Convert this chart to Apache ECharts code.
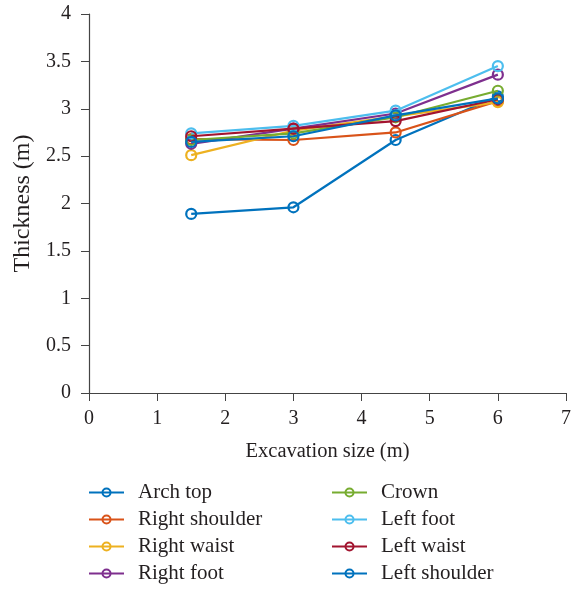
<!DOCTYPE html>
<html>
<head>
<meta charset="utf-8">
<script src="https://cdn.jsdelivr.net/npm/echarts@6/dist/echarts.min.js"></script>
<style>html,body{margin:0;padding:0;background:#fff}#c{width:574px;height:590px}</style>
</head>
<body>
<div id="c"></div>
<script>
const xValues = [1.5, 3, 4.5, 6];
const seriesNames = ['Arch top', 'Right shoulder', 'Right waist', 'Right foot', 'Crown', 'Left foot', 'Left waist', 'Left shoulder'];
const archTop = [1.89, 1.96, 2.67, 3.13];
const rightShoulder = [2.68, 2.67, 2.75, 3.08];
const rightWaist = [2.51, 2.77, 2.92, 3.07];
const rightFoot = [2.63, 2.79, 2.95, 3.36];
const crown = [2.67, 2.74, 2.91, 3.19];
const leftFoot = [2.74, 2.82, 2.98, 3.45];
const leftWaist = [2.71, 2.79, 2.87, 3.10];
const leftShoulder = [2.65, 2.71, 2.93, 3.11];
const xTicks = [0, 1, 2, 3, 4, 5, 6, 7];
const yTicks = [0, 0.5, 1, 1.5, 2, 2.5, 3, 3.5, 4];
const colors = ['#0072BD', '#D95319', '#EDB120', '#7E2F8E', '#77AC30', '#4DBEEE', '#A2142F', '#0072BD'];
const allData = [archTop, rightShoulder, rightWaist, rightFoot, crown, leftFoot, leftWaist, leftShoulder];

const font = 'Liberation Serif';
const txt = '#231F20';
const chart = echarts.init(document.getElementById('c'));
const series = seriesNames.map((n, i) => ({
  name: n,
  type: 'line',
  data: xValues.map((x, j) => [x, allData[i][j]]),
  symbol: 'circle',
  symbolSize: 10,
  lineStyle: { width: 2.2, color: colors[i] },
  itemStyle: { color: 'rgba(255,255,255,0)', borderWidth: 2.2, borderColor: colors[i] },
  z: 2 + i
}));
const legendBase = {
  orient: 'vertical', top: 477,
  itemWidth: 35, itemHeight: 10, itemGap: 6,
  textStyle: { fontFamily: font, fontSize: 21, color: txt, padding: [0, 0, 0, 9] }
};
chart.setOption({
  animation: false,
  backgroundColor: '#fff',
  grid: { left: 89, right: 5, top: 14, bottom: 197, containLabel: false },
  xAxis: {
    type: 'value', min: xTicks[0], max: xTicks[xTicks.length - 1], interval: 1,
    name: 'Excavation size (m)', nameLocation: 'middle', nameGap: 48,
    nameTextStyle: { fontFamily: font, fontSize: 20.5, color: txt },
    axisLine: { show: true, lineStyle: { color: '#444', width: 1.2 } },
    axisTick: { show: true, inside: false, length: 8, lineStyle: { color: '#444' } },
    axisLabel: { fontFamily: font, fontSize: 20, color: txt, margin: 16 },
    splitLine: { show: false }
  },
  yAxis: {
    type: 'value', min: yTicks[0], max: yTicks[yTicks.length - 1], interval: 0.5,
    name: 'Thickness (m)', nameLocation: 'middle', nameGap: 53, nameRotate: 90,
    nameTextStyle: { fontFamily: font, fontSize: 24, color: txt },
    axisLine: { show: true, lineStyle: { color: '#444', width: 1.2 } },
    axisTick: { show: true, inside: false, length: 8, lineStyle: { color: '#444' } },
    axisLabel: { fontFamily: font, fontSize: 20, color: txt, margin: 18 },
    splitLine: { show: false }
  },
  legend: [
    Object.assign({ data: seriesNames.slice(0, 4), left: 83 }, legendBase),
    Object.assign({ data: seriesNames.slice(4), left: 326 }, legendBase)
  ],
  series: series
});
</script>
</body>
</html>
